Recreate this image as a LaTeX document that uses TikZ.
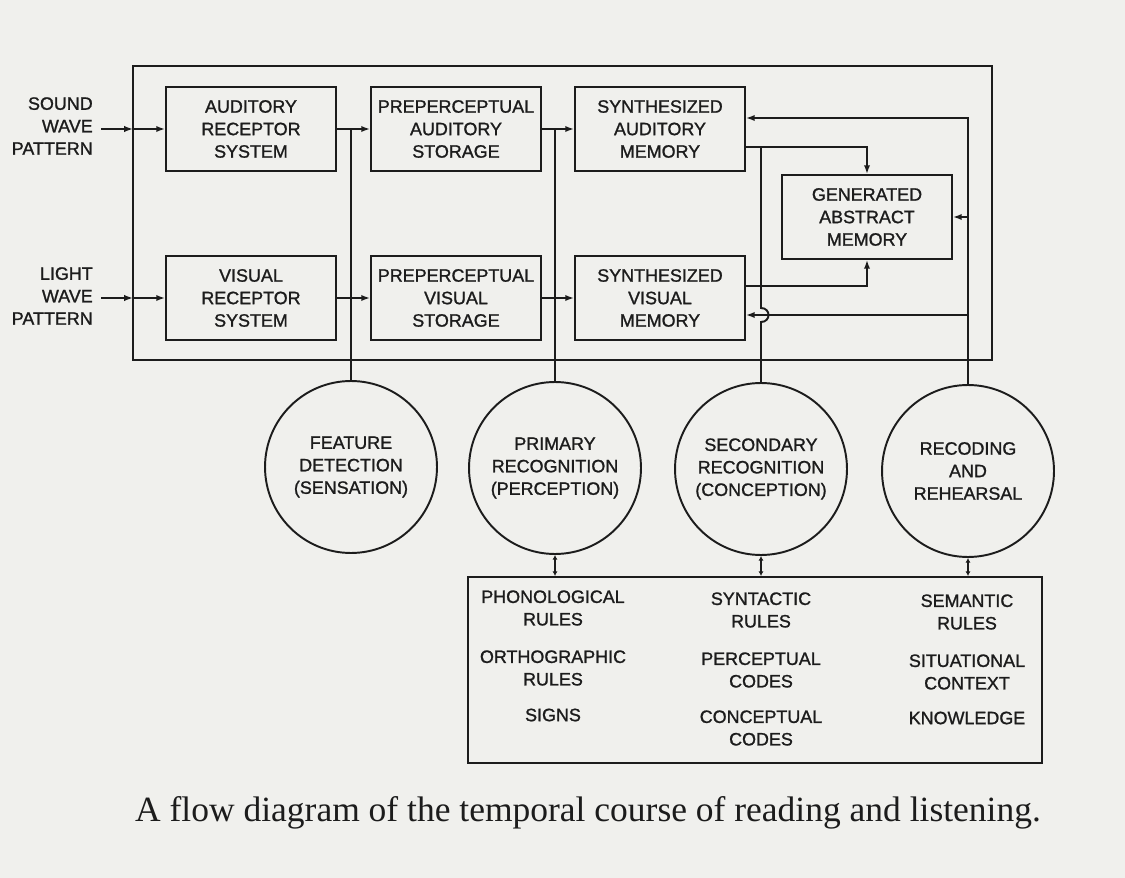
\documentclass[tikz,border=0pt]{standalone}
\usepackage{fontspec}
\setmainfont{Liberation Serif}
\setsansfont{Liberation Sans}
\newfontfamily\lettering{Liberation Sans}[FakeBold=1.2]
\usetikzlibrary{arrows.meta,positioning,calc}
\definecolor{paper}{RGB}{240,240,237}
\definecolor{ink}{RGB}{28,28,28}

\begin{document}
\begin{tikzpicture}[x=0.02cm,y=0.02cm,
  every node/.style={font=\lettering\fontsize{10.2}{12.8}\selectfont,text=ink,align=center},
  stage/.style={draw=ink,line width=1.1pt,minimum width=3.4cm,minimum height=1.68cm,inner sep=0pt},
  process/.style={draw=ink,line width=1.1pt,circle,minimum size=3.44cm,inner sep=0pt},
  wire/.style={draw=ink,line width=1.1pt},
  arr/.style={wire,-{Latex[length=5pt,width=3.6pt]}},
  link/.style={wire,{Latex[length=2.6pt,width=2.8pt]}-{Latex[length=2.6pt,width=2.8pt]}}]
  \fill[paper] (0,0) rectangle (1125,-878);
  \useasboundingbox (0,0) rectangle (1125,-878);

  \draw[wire] (133,-66) coordinate (frameNW) rectangle (992,-360);

  \node[anchor=east,inner sep=4.5pt,align=right] (sound) at (101,-126) {SOUND\\WAVE\\PATTERN};
  \node[anchor=east,inner sep=4.5pt,align=right] (light) at (101,-296) {LIGHT\\WAVE\\PATTERN};

  \node[stage] (asr) at (251,-129) {AUDITORY\\RECEPTOR\\SYSTEM};
  \node[stage] (pas) at (456,-129) {PREPERCEPTUAL\\AUDITORY\\STORAGE};
  \node[stage] (sam) at (660,-129) {SYNTHESIZED\\AUDITORY\\MEMORY};
  \node[stage] (vrs) at (251,-298) {VISUAL\\RECEPTOR\\SYSTEM};
  \node[stage] (pvs) at (456,-298) {PREPERCEPTUAL\\VISUAL\\STORAGE};
  \node[stage] (svm) at (660,-298) {SYNTHESIZED\\VISUAL\\MEMORY};
  \node[stage] (gam) at (867,-217) {GENERATED\\ABSTRACT\\MEMORY};

  \node[process] (fd) at (351,-467) {FEATURE\\DETECTION\\(SENSATION)};
  \node[process] (pr) at (555,-468) {PRIMARY\\RECOGNITION\\(PERCEPTION)};
  \node[process] (sr) at (761,-469) {SECONDARY\\RECOGNITION\\(CONCEPTION)};
  \node[process] (rr) at (968,-471) {RECODING\\AND\\REHEARSAL};

  \node[draw=ink,line width=1.1pt,minimum width=11.48cm,minimum height=3.72cm] (rules) at (755,-670) {};
  \node (phon) at (553,-608) {PHONOLOGICAL\\RULES};
  \node (ortho) at (553,-668) {ORTHOGRAPHIC\\RULES};
  \node (signs) at (553,-715) {SIGNS};
  \node (synt) at (761,-610) {SYNTACTIC\\RULES};
  \node (perc) at (761,-670) {PERCEPTUAL\\CODES};
  \node (conc) at (761,-728) {CONCEPTUAL\\CODES};
  \node (sema) at (967,-612) {SEMANTIC\\RULES};
  \node (situ) at (967,-672) {SITUATIONAL\\CONTEXT};
  \node (know) at (967,-718) {KNOWLEDGE};

  \node[font=\rmfamily\fontsize{20.2}{22}\selectfont] (caption) at (588,-813) {A flow diagram of the temporal course of reading and listening.};

  \coordinate (samout) at ($(sam.east)+(0,-18)$);
  \coordinate (samin) at ($(sam.east)+(0,11)$);
  \coordinate (svmout) at ($(svm.east)+(0,12)$);
  \coordinate (svmin) at ($(svm.east)+(0,-17)$);

  \draw[arr] (sound.east |- asr.west) -- (asr.west -| frameNW);
  \draw[arr] (asr.west -| frameNW) -- (asr.west);
  \draw[arr] (light.east |- vrs.west) -- (vrs.west -| frameNW);
  \draw[arr] (vrs.west -| frameNW) -- (vrs.west);

  \draw[arr] (asr) -- (pas);
  \draw[arr] (pas) -- (sam);
  \draw[arr] (vrs) -- (pvs);
  \draw[arr] (pvs) -- (svm);
  \draw[wire] (asr.east -| fd) -- (fd);
  \draw[wire] (pas.east -| pr) -- (pr);

  \draw[arr] (samout) -| (gam);
  \draw[arr] (svmout) -| (gam);
  \draw[wire] (samout -| sr) -- ($(sr.north |- svmin)+(0,7)$)
    .. controls +(10,0) and +(10,0) .. ($(sr.north |- svmin)+(0,-7)$) -- (sr);

  \draw[arr] (rr) |- (samin);
  \draw[arr] (rr.north |- gam.east) -- (gam.east);
  \draw[arr] (rr.north |- svmin) -- (svmin);

  \draw[link] (pr) -- (pr |- rules.north);
  \draw[link] (sr) -- (sr |- rules.north);
  \draw[link] (rr) -- (rr |- rules.north);
\end{tikzpicture}
\end{document}
